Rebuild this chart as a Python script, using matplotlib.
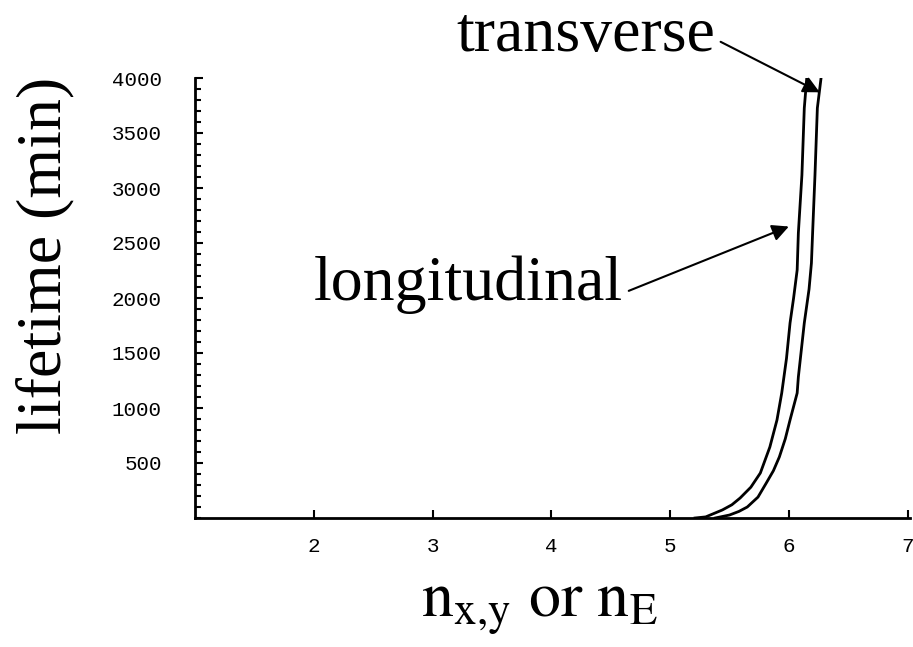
import matplotlib.pyplot as plt
from matplotlib.ticker import MultipleLocator

# curves
n_long = [5.21, 5.30, 5.44, 5.52, 5.59, 5.68, 5.76, 5.84, 5.90, 5.94, 5.98, 6.01, 6.04, 6.07, 6.08, 6.11, 6.13, 6.15]
t_long = [0, 10, 73, 120, 182, 280, 409, 645, 891, 1136, 1450, 1773, 2000, 2255, 2591, 3118, 3727, 3990]
n_trans = [5.38, 5.50, 5.58, 5.65, 5.74, 5.81, 5.87, 5.92, 5.97, 6.01, 6.07, 6.08, 6.13, 6.17, 6.19, 6.20, 6.22, 6.24, 6.27]
t_trans = [0, 27, 60, 100, 190, 318, 430, 555, 720, 891, 1136, 1282, 1773, 2080, 2318, 2591, 3118, 3727, 3990]

xticks = [2, 3, 4, 5, 6, 7]
yticks = [500, 1000, 1500, 2000, 2500, 3000, 3500, 4000]

fig = plt.figure(figsize=(9.13, 6.47), dpi=100)
ax = fig.add_axes([195 / 913, 1 - 518 / 647, 715 / 913, 440 / 647])

ax.plot(n_long, t_long, color="black", lw=2)
ax.plot(n_trans, t_trans, color="black", lw=2)

ax.set_xlim(1, 7.02)
ax.set_ylim(0, 4000)
for s in ["top", "right"]:
    ax.spines[s].set_visible(False)
ax.spines["left"].set_linewidth(2)
ax.spines["bottom"].set_linewidth(2)

ax.set_xticks(xticks)
ax.set_yticks(yticks)
ax.yaxis.set_minor_locator(MultipleLocator(100))
ax.tick_params(direction="in", length=6, width=1.5, labelsize=15)
ax.tick_params(axis="y", which="minor", direction="in", length=4, width=1.5)
ax.tick_params(axis="x", pad=14)
ax.tick_params(axis="y", pad=24)
for lab in ax.get_xticklabels() + ax.get_yticklabels():
    lab.set_family("Liberation Mono")

serif = "Liberation Serif"
fig.text(45 / 913, 1 - 255 / 647, "lifetime (min)", rotation=90, family=serif,
         fontsize=46, ha="center", va="center")
plt.rcParams["mathtext.fontset"] = "stix"
fig.text(540 / 913, 1 - 606 / 647, r"$\mathrm{n_{x{,}y}\ or\ n_E}$", fontsize=46,
         ha="center", va="center")

ax.annotate("transverse", xy=(6.26, 3870), xycoords="data",
            xytext=(586 / 913, 1 - 36 / 647), textcoords="figure fraction",
            family=serif, fontsize=46, ha="center", va="center",
            arrowprops=dict(arrowstyle="-|>", color="black", lw=1.5,
                            mutation_scale=25, shrinkA=0, shrinkB=0,
                            relpos=(1.02, 0.4)))
ax.annotate("longitudinal", xy=(6.0, 2650), xycoords="data",
            xytext=(468 / 913, 1 - 285 / 647), textcoords="figure fraction",
            family=serif, fontsize=46, ha="center", va="center",
            arrowprops=dict(arrowstyle="-|>", color="black", lw=1.5,
                            mutation_scale=25, shrinkA=0, shrinkB=0,
                            relpos=(1.02, 0.4)))

fig.savefig("out.png", dpi=100)
